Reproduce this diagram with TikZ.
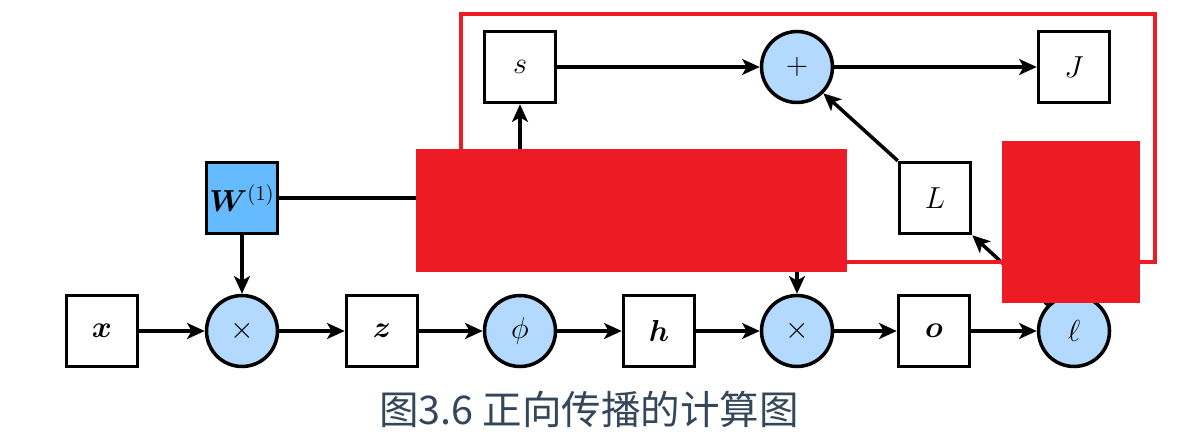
\documentclass[tikz,border=0pt]{standalone}
\usepackage{fontspec}
\usepackage{bm}
\usetikzlibrary{arrows.meta}
\newfontfamily\cjk{Noto Sans CJK SC}
\definecolor{opblue}{HTML}{B3D9FF}
\definecolor{parblue}{HTML}{66BBFF}
\definecolor{markred}{HTML}{ED1C24}
\definecolor{captiongray}{HTML}{34475A}

\tikzset{
  var/.style={draw, line width=2pt, minimum size=1.42cm, inner sep=0pt,
    font=\fontsize{18}{20}\selectfont},
  op/.style={draw, circle, fill=opblue, line width=2pt, minimum size=1.42cm,
    inner sep=0pt, font=\fontsize{18}{20}\selectfont},
  par/.style={var, fill=parblue},
  flow/.style={line width=2pt, -{Stealth[length=10pt, width=9pt, inset=2.5pt]}}
}

\begin{document}
\begin{tikzpicture}[x=0.02cm, y=-0.02cm]
\useasboundingbox (0,0) rectangle (1189,435);

% bottom row
\node[var] (x) at (102,331) {$\bm{x}$};
\node[op] (mulA) at (242,331) {$\times$};
\node[var] (z) at (382,331) {$\bm{z}$};
\node[op] (phi) at (520,331) {$\phi$};
\node[var] (h) at (659,331) {$\bm{h}$};
\node[op] (mulB) at (797,331) {$\times$};
\node[var] (o) at (934,331) {$\bm{o}$};
\node[op] (ell) at (1074,331) {$\ell$};

% parameter and regularisation
\node[par] (W) at (242,198) {$\bm{W}^{(1)}$};
\node[var] (L) at (935,198) {$L$};

% top row
\node[var] (s) at (520,67) {$s$};
\node[op] (plus) at (797,67) {$+$};
\node[var] (J) at (1074,67) {$J$};

\coordinate (wend) at (620,198);
\coordinate (sfoot) at (520,200);
\coordinate (mtop) at (797,230);

\draw[flow] (x) -- (mulA);
\draw[flow] (mulA) -- (z);
\draw[flow] (z) -- (phi);
\draw[flow] (phi) -- (h);
\draw[flow] (h) -- (mulB);
\draw[flow] (mulB) -- (o);
\draw[flow] (o) -- (ell);
\draw[flow] (W) -- (mulA);
\draw[line width=2pt] (W.east) -- (wend);
\draw[flow] (sfoot) -- (s);
\draw[flow] (mtop) -- (mulB);
\draw[flow] (s) -- (plus);
\draw[flow] (plus) -- (J);
\draw[flow] (L.north west) -- (plus.-45);
\draw[flow] (ell.135) -- (L.south east);

% marked region
\draw[markred, line width=1.8pt] (461,14) rectangle (1155,262);
\fill[markred] (416,149) rectangle (847,272);
\fill[markred] (1002,141) rectangle (1140,303);

\node[text=captiongray, font=\cjk\fontsize{22.5}{26}\selectfont] (caption) at (589,409) {图3.6 正向传播的计算图};
\end{tikzpicture}
\end{document}
